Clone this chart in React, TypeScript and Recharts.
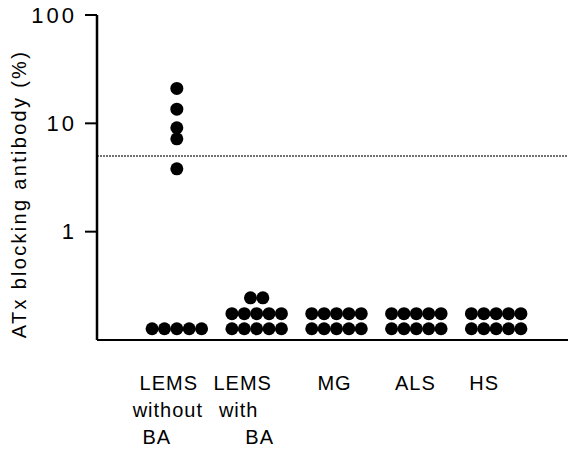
import { ScatterChart, Scatter, XAxis, YAxis, ReferenceLine } from 'recharts';

// group labels (one line per row)
const groupLabels = [
  ['LEMS', 'without', 'BA'],
  ['LEMS', 'with', 'BA'],
  ['MG'],
  ['ALS'],
  ['HS'],
];

// ATx blocking antibody (%) per patient
const lemsWithoutBA = [21, 13.5, 9.1, 7.2, 3.8, 0.127, 0.127, 0.127, 0.127, 0.127];
const lemsWithBA = [0.245, 0.245, 0.175, 0.175, 0.175, 0.175, 0.175, 0.127, 0.127, 0.127, 0.127, 0.127];
const mg = [0.175, 0.175, 0.175, 0.175, 0.175, 0.127, 0.127, 0.127, 0.127, 0.127];
const als = [0.175, 0.175, 0.175, 0.175, 0.175, 0.127, 0.127, 0.127, 0.127, 0.127];
const hs = [0.175, 0.175, 0.175, 0.175, 0.175, 0.127, 0.127, 0.127, 0.127, 0.127];

const cutoff = 5;
const yTicks = [1, 10, 100];

const groups = [lemsWithoutBA, lemsWithBA, mg, als, hs];

// label lines aren't centred in the original, nudge each one
const labelNudge = [
  [-8, -9, -20],
  [-14, -18, 3],
  [-2],
  [-1],
  [-12],
];

// equal values sit side by side in a row, centred on the group
const DOT_STEP = 0.155;
const layout = (values: number[], group: number) => {
  const counts: Record<string, number> = {};
  values.forEach((v) => (counts[v] = (counts[v] || 0) + 1));
  const seen: Record<string, number> = {};
  return values.map((v) => {
    const i = seen[v] || 0;
    seen[v] = i + 1;
    return { x: group + (i - (counts[v] - 1) / 2) * DOT_STEP, y: v };
  });
};

const Dot = (props: any) => <circle cx={props.cx} cy={props.cy} r={6.5} fill="#000" />;

const XTick = ({ x, y, payload }: any) => {
  const lines = groupLabels[payload.value] || [];
  const nudge = labelNudge[payload.value] || [];
  return (
    <text
      x={x}
      y={y + 42}
      textAnchor="middle"
      fontFamily="Liberation Sans, Arial, sans-serif"
      fontSize={20}
      letterSpacing={1}
      fill="#000"
    >
      {lines.map((l, i) => (
        <tspan key={i} x={x + (nudge[i] || 0)} dy={i === 0 ? 0 : 27}>
          {l}
        </tspan>
      ))}
    </text>
  );
};

const YLabel = () => (
  <text
    x={0}
    y={0}
    transform="translate(26, 194) rotate(-90)"
    textAnchor="middle"
    fontFamily="Liberation Sans, Arial, sans-serif"
    fontSize={20}
    letterSpacing={2.3}
    fill="#000"
  >
    ATx blocking antibody (%)
  </text>
);

export default function App() {
  return (
    <div style={{ margin: -8, background: '#fff' }}>
      <ScatterChart width={576} height={463} margin={{ top: 15, right: 0, left: 0, bottom: 0 }}>
        <XAxis
          type="number"
          dataKey="x"
          domain={[-1, 5]}
          ticks={[0, 1, 2, 3, 4]}
          tick={<XTick />}
          tickLine={false}
          height={123}
          axisLine={{ stroke: '#000', strokeWidth: 2 }}
          allowDataOverflow
        />
        <YAxis
          type="number"
          dataKey="y"
          scale="log"
          domain={[0.1, 100]}
          ticks={yTicks}
          width={97}
          tickSize={12}
          tickMargin={8}
          axisLine={{ stroke: '#000', strokeWidth: 2.5 }}
          tickLine={{ stroke: '#000', strokeWidth: 2 }}
          tick={{ fill: '#000', fontSize: 22, fontFamily: 'Liberation Sans, Arial, sans-serif', letterSpacing: 3 }}
          label={<YLabel />}
          allowDataOverflow
        />
        <ReferenceLine y={cutoff} stroke="#444" strokeWidth={1.5} strokeDasharray="2 1" />
        {groups.map((g, i) => (
          <Scatter
            key={i}
            data={layout(g, i)}
            shape={<Dot />}
            isAnimationActive={false}
          />
        ))}
      </ScatterChart>
    </div>
  );
}
